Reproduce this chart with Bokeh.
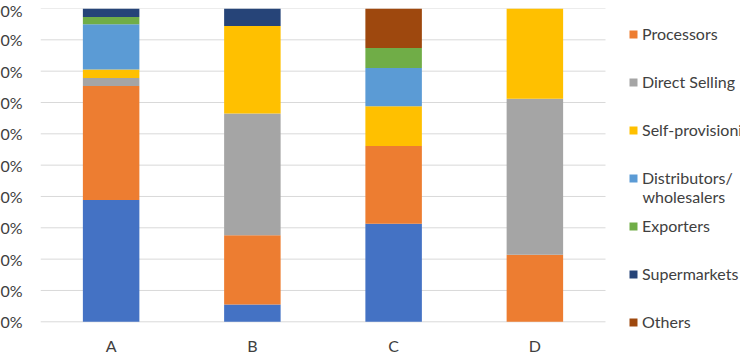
from bokeh.plotting import figure
from bokeh.models import (ColumnDataSource, NumeralTickFormatter, Legend, LegendItem,
                          Label, FixedTicker)
from bokeh.embed import file_html
from bokeh.resources import INLINE

# Share of each sales channel per group (fractions of 100%)
groups = ["A", "B", "C", "D"]
channel_1 = [0.389, 0.055, 0.313, 0.0]
processors = [0.364, 0.221, 0.248, 0.214]
direct_selling = [0.025, 0.389, 0.0, 0.498]
self_provisioning = [0.027, 0.279, 0.127, 0.288]
distributors = [0.145, 0.0, 0.122, 0.0]
exporters = [0.023, 0.0, 0.064, 0.0]
supermarkets = [0.027, 0.056, 0.0, 0.0]
others = [0.0, 0.0, 0.126, 0.0]

y_ticks = [i / 10 for i in range(11)]

keys = ["channel_1", "processors", "direct_selling", "self_provisioning",
        "distributors", "exporters", "supermarkets", "others"]
names = [None, "Processors", "Direct Selling", "Self-provisioning",
         "Distributors/", "Exporters", "Supermarkets", "Others"]
colors = ["#4472C4", "#ED7D31", "#A5A5A5", "#FFC000",
          "#5B9BD5", "#70AD47", "#264478", "#9E480E"]

xpos = [i + 0.5 for i in range(len(groups))]
source = ColumnDataSource(data=dict(
    x=xpos, channel_1=channel_1, processors=processors,
    direct_selling=direct_selling, self_provisioning=self_provisioning,
    distributors=distributors, exporters=exporters,
    supermarkets=supermarkets, others=others,
))

FONT = "Lato"
TEXT = "#404040"
GRID = "#D9D9D9"

# layout in pixels: one group slot is 141.25 px wide, 10% is 31.33 px tall
SLOT = 141.25
UNIT = 313.3
FRAME_W, FRAME_H = 700, 327
x_end = FRAME_W / SLOT
y_start = 1 - FRAME_H / UNIT

p = figure(x_range=(0, x_end), y_range=(y_start, 1),
           frame_width=FRAME_W, frame_height=FRAME_H,
           min_border_left=80, min_border_right=0, min_border_top=8,
           output_backend="svg", toolbar_location=None,
           styles={"margin-left": "-40px"})

p.outline_line_color = None
p.xgrid.grid_line_color = None
p.ygrid.grid_line_color = None

# horizontal gridlines spanning the group slots only
p.segment(x0=[0] * len(y_ticks), x1=[len(groups)] * len(y_ticks),
          y0=y_ticks, y1=y_ticks, line_color=GRID, line_width=1)

renderers = p.vbar_stack(keys, x="x", width=0.4, color=colors,
                         line_color=None, source=source)

p.yaxis.ticker = FixedTicker(ticks=y_ticks)
p.yaxis.formatter = NumeralTickFormatter(format="0%")
p.yaxis.axis_line_color = None
p.yaxis.major_tick_line_color = None
p.yaxis.minor_tick_line_color = None
p.yaxis.major_tick_out = 0
p.yaxis.major_tick_in = 0
p.yaxis.minor_tick_out = 0
p.yaxis.major_label_standoff = 18
p.yaxis.major_label_text_font = FONT
p.yaxis.major_label_text_font_size = "16px"
p.yaxis.major_label_text_color = TEXT

p.xaxis.ticker = FixedTicker(ticks=xpos)
p.xaxis.major_label_overrides = {x: g for x, g in zip(xpos, groups)}
p.xaxis.axis_line_color = None
p.xaxis.major_tick_line_color = None
p.xaxis.minor_tick_line_color = None
p.xaxis.major_tick_out = 0
p.xaxis.major_tick_in = 0
p.xaxis.minor_tick_out = 0
p.xaxis.major_label_standoff = 0
p.xaxis.major_label_text_font = FONT
p.xaxis.major_label_text_font_size = "16px"
p.xaxis.major_label_text_color = TEXT

items = [LegendItem(label=n, renderers=[r])
         for n, r in zip(names, renderers) if n is not None]
legend = Legend(items=items, location=(588, 3), padding=0, margin=0,
                spacing=27, label_height=21, glyph_width=10, glyph_height=10,
                label_standoff=4, border_line_color=None,
                background_fill_alpha=0,
                label_text_font=FONT, label_text_font_size="16px",
                label_text_color=TEXT)
p.add_layout(legend, "center")

# second line of the distributors entry
p.add_layout(Label(x=602, y=139, x_units="screen", y_units="screen",
                   text="wholesalers", text_font=FONT, text_font_size="16px",
                   text_color=TEXT, text_baseline="middle"))

open("out.html", "w").write(file_html(p, INLINE))
